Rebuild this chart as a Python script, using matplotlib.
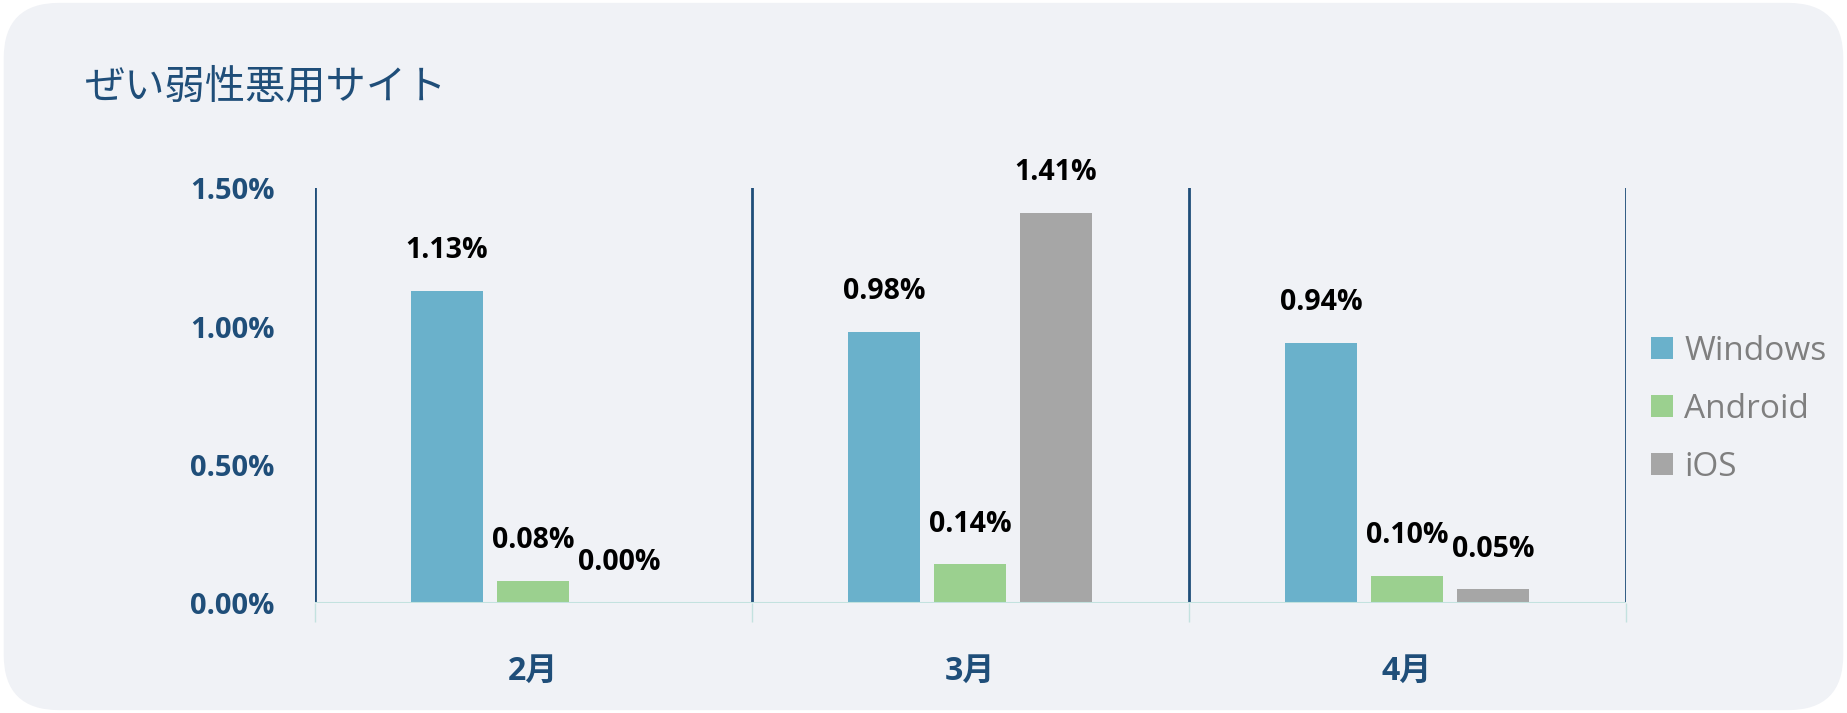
import numpy as np
import matplotlib.pyplot as plt
from matplotlib.patches import FancyBboxPatch, Patch

months = ["2月", "3月", "4月"]
series = ["Windows", "Android", "iOS"]
windows = [1.13, 0.98, 0.94]
android = [0.08, 0.14, 0.10]
ios = [0.00, 1.41, 0.05]
colors = ["#6ab1cb", "#9bd08f", "#a6a6a6"]
yticks = [0.0, 0.5, 1.0, 1.5]

navy = "#1f4e79"
bg = "#f0f2f6"

plt.rcParams['font.family'] = ['Open Sans', 'Noto Sans CJK JP', 'DejaVu Sans']

fig = plt.figure(figsize=(18.47, 7.13), dpi=100, facecolor="white")
panel = FancyBboxPatch((0.002, 0.004), 0.996, 0.992, boxstyle="round,pad=0,rounding_size=0.03",
                       transform=fig.transFigure, facecolor=bg, edgecolor="none",
                       mutation_aspect=18.47 / 7.13, zorder=-5)
fig.patches.append(panel)

ax = fig.add_axes([0.1703, 0.154, 0.7098, 0.582])
ax.set_facecolor("none")
ax.set_zorder(2)

x = np.arange(len(months))
width = 0.165
step = 0.197
for i, (vals, name) in enumerate(zip([windows, android, ios], series)):
    pos = x + (i - 1) * step
    ax.bar(pos, vals, width, color=colors[i], label=name, zorder=2)
    for px, v in zip(pos, vals):
        ax.annotate(f"{v:.2f}%", (px, v), xytext=(0, 29), textcoords="offset points",
                    ha="center", va="center", fontsize=20.5, fontweight="bold", color="black",
                    annotation_clip=False)

ax.set_xlim(-0.5, 2.5)
ax.set_ylim(0, 1.5)

for b in np.arange(-0.5, 3.0, 1.0):
    ax.axvline(b, ymin=0, ymax=1, color=navy, lw=2, zorder=3)
ax.axhline(0, color="#c3e2df", lw=1.5, zorder=4)

for s in ax.spines.values():
    s.set_visible(False)

ax.set_yticks(yticks)
ax.set_yticklabels([f"{t:.2f}%" for t in yticks])
ax.tick_params(axis="y", length=0, pad=29, labelsize=21, labelcolor=navy)
for lab in ax.get_yticklabels():
    lab.set_fontweight("bold")

ax.set_xticks(x)
ax.set_xticklabels(months)
ax.set_xticks(np.arange(-0.5, 3.0, 1.0), minor=True)
ax.tick_params(axis="x", which="major", length=0, pad=37, labelsize=23, labelcolor=navy)
ax.tick_params(axis="x", which="minor", length=14, width=1, color="#c3e2df", direction="out")
for lab in ax.get_xticklabels():
    lab.set_fontweight("bold")

fig.text(0.046, 0.878, "ぜい弱性悪用サイト", fontsize=29, color=navy,
         family=['Noto Sans CJK JP', 'DejaVu Sans'], ha="left", va="center")

handles = [Patch(facecolor=c, edgecolor="none") for c in colors]
leg = fig.legend(handles, series, loc="center left", bbox_to_anchor=(0.885, 0.426),
                 frameon=False, fontsize=24, handlelength=0.64, handleheight=0.64,
                 handletextpad=0.35, labelspacing=0.75, borderpad=0)
for t in leg.get_texts():
    t.set_color("#7f7f7f")

fig.savefig("out.png", dpi=100, facecolor=fig.get_facecolor())
